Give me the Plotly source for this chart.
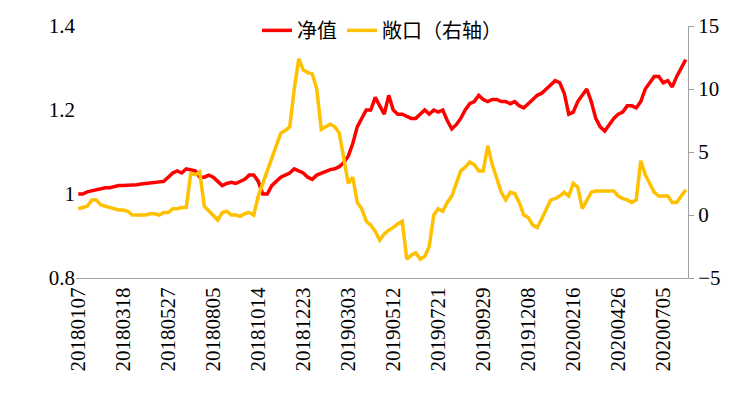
import pandas as pd
import plotly.graph_objects as go

dates = [d.strftime("%Y%m%d") for d in pd.date_range("2018-01-07", periods=136, freq="7D")]

net_value = [
    1.0, 1.0, 1.005, 1.008, 1.01, 1.012, 1.015, 1.015, 1.018, 1.02,
    1.02, 1.02, 1.022, 1.022, 1.024, 1.025, 1.027, 1.028, 1.028, 1.03,
    1.04, 1.05, 1.055, 1.05, 1.06, 1.058, 1.055, 1.04, 1.04, 1.045,
    1.04, 1.03, 1.02, 1.025, 1.028, 1.025, 1.03, 1.035, 1.045, 1.045,
    1.03, 1.0, 1.0, 1.02, 1.03, 1.04, 1.045, 1.05, 1.06, 1.055,
    1.05, 1.04, 1.035, 1.045, 1.05, 1.055, 1.058, 1.06, 1.065, 1.075,
    1.09, 1.12, 1.16, 1.18, 1.2, 1.2, 1.23, 1.21, 1.19, 1.235,
    1.2, 1.19, 1.19, 1.185, 1.18, 1.18, 1.19, 1.2, 1.19, 1.2,
    1.195, 1.2, 1.175, 1.155, 1.165, 1.18, 1.2, 1.215, 1.22, 1.235,
    1.225, 1.22, 1.225, 1.225, 1.22, 1.22, 1.215, 1.22, 1.21, 1.205,
    1.215, 1.225, 1.235, 1.24, 1.25, 1.26, 1.27, 1.265, 1.24, 1.19,
    1.195, 1.22, 1.235, 1.25, 1.22, 1.18, 1.16, 1.15, 1.165, 1.18,
    1.19, 1.195, 1.21, 1.21, 1.205, 1.22, 1.25, 1.265, 1.28, 1.28,
    1.265, 1.27, 1.255, 1.28, 1.3, 1.32,
]

exposure = [
    0.5, 0.6, 0.7, 1.2, 1.2, 0.8, 0.7, 0.6, 0.5, 0.4,
    0.4, 0.3, 0, 0, 0, 0, 0.1, 0.1, 0, 0.2,
    0.2, 0.5, 0.5, 0.6, 0.6, 3.3, 3.2, 3.4, 0.7, 0.3,
    0, -0.4, 0.2, 0.3, 0, 0, -0.1, 0.1, 0.2, 0,
    1.5, 2.5, 3.5, 4.5, 5.5, 6.5, 6.7, 7, 10, 12.4,
    11.5, 11.3, 11.2, 10, 6.8, 7, 7.2, 7, 6.5, 4.5,
    2.5, 3, 1, 0.5, -0.5, -0.8, -1.3, -2, -1.5, -1.2,
    -1, -0.7, -0.5, -3.5, -3.2, -3, -3.5, -3.3, -2.5, 0,
    0.5, 0.3, 1, 1.5, 2.5, 3.5, 3.8, 4.2, 4, 3.5,
    3.5, 5.5, 4, 3, 1.8, 1.2, 1.8, 1.7, 1, 0,
    -0.2, -0.8, -1, -0.3, 0.5, 1.2, 1.3, 1.5, 1.8, 1.5,
    2.5, 2.2, 0.5, 1.2, 1.8, 1.9, 1.9, 1.9, 1.9, 1.9,
    1.5, 1.3, 1.2, 1.0, 1.2, 4.3, 3.2, 2.5, 1.8, 1.5,
    1.5, 1.5, 1.0, 1.0, 1.5, 2.0,
]

tick_labels = dates[::10]

fig = go.Figure()
fig.add_trace(go.Scatter(x=dates, y=net_value, name="净值", mode="lines",
                         line=dict(color="#FF0000", width=3.5)))
fig.add_trace(go.Scatter(x=dates, y=exposure, name="敞口（右轴）", mode="lines",
                         line=dict(color="#FFC000", width=3.5), yaxis="y2"))

fig.update_layout(
    width=741, height=408,
    margin=dict(l=68, r=61, t=18, b=138, autoexpand=False),
    paper_bgcolor="white", plot_bgcolor="white",
    font=dict(family="Liberation Serif, Noto Sans CJK SC", size=21, color="black"),
    legend=dict(orientation="h", x=0.5, xanchor="center", y=1.06, yanchor="top",
                font=dict(family="Noto Sans CJK SC", size=20), bgcolor="rgba(0,0,0,0)"),
    xaxis=dict(type="category", tickvals=tick_labels, ticktext=tick_labels, tickangle=-90,
               showline=True, linecolor="#A0A0A0", showgrid=False, ticks="",
               range=[-0.5, len(dates) - 0.5], automargin=False),
    yaxis=dict(range=[0.8, 1.4], tickvals=[0.8, 1.0, 1.2, 1.4],
               ticktext=["0.8", "1", "1.2", "1.4"], showgrid=False, showline=False,
               ticks="", zeroline=False, automargin=False),
    yaxis2=dict(range=[-5, 15], dtick=5, overlaying="y", side="right", showgrid=False,
                showline=True, linecolor="#A0A0A0", ticks="outside", ticklen=5,
                tickcolor="#A0A0A0", zeroline=False, automargin=False),
)

fig.write_html("out.html")
